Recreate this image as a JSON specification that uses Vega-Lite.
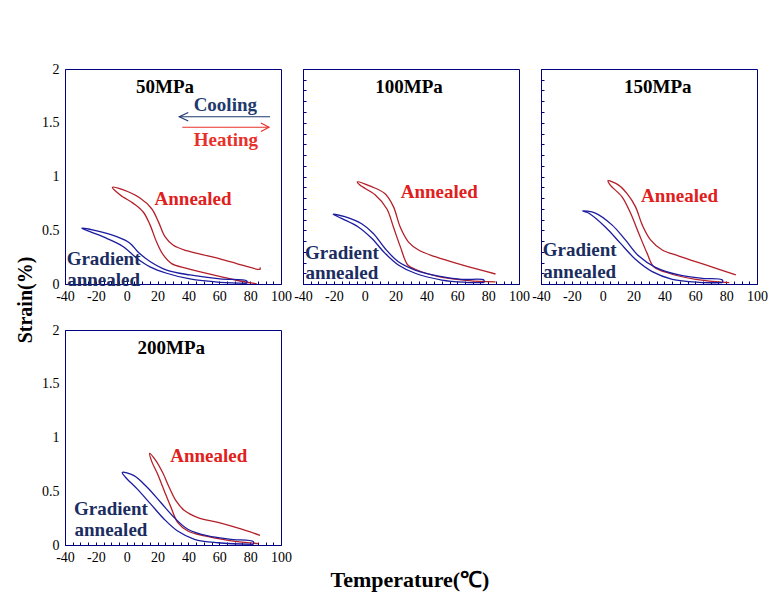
{
  "$schema": "https://vega.github.io/schema/vega-lite/v6.json",
  "padding": {"left": 15, "top": 61, "right": 5, "bottom": 5},
  "background": "white",
  "title": {"text": "Temperature(℃)", "orient": "bottom", "anchor": "middle", "font": "Liberation Serif", "fontSize": 22, "fontWeight": "bold", "color": "#000000", "offset": 5, "dx": 18},
  "datasets": {
    "curves": [
      {"p":"50MPa","c":"A","i":0,"x":84.2,"y":0.003},{"p":"50MPa","c":"A","i":1,"x":73.4,"y":0.028},{"p":"50MPa","c":"A","i":2,"x":56.1,"y":0.084},{"p":"50MPa","c":"A","i":3,"x":38.9,"y":0.146},{"p":"50MPa","c":"A","i":4,"x":29.1,"y":0.19},{"p":"50MPa","c":"A","i":5,"x":23.7,"y":0.27},{"p":"50MPa","c":"A","i":6,"x":19.4,"y":0.39},{"p":"50MPa","c":"A","i":7,"x":15.1,"y":0.55},{"p":"50MPa","c":"A","i":8,"x":10.7,"y":0.67},{"p":"50MPa","c":"A","i":9,"x":4.3,"y":0.75},{"p":"50MPa","c":"A","i":10,"x":-4.4,"y":0.83},{"p":"50MPa","c":"A","i":11,"x":-9.3,"y":0.90},
      {"p":"50MPa","c":"A","i":12,"x":-2.2,"y":0.875},{"p":"50MPa","c":"A","i":13,"x":8.6,"y":0.80},{"p":"50MPa","c":"A","i":14,"x":16.2,"y":0.70},{"p":"50MPa","c":"A","i":15,"x":20.5,"y":0.58},{"p":"50MPa","c":"A","i":16,"x":24.8,"y":0.44},{"p":"50MPa","c":"A","i":17,"x":30.2,"y":0.36},{"p":"50MPa","c":"A","i":18,"x":38.9,"y":0.31},{"p":"50MPa","c":"A","i":19,"x":56.1,"y":0.25},{"p":"50MPa","c":"A","i":20,"x":71.3,"y":0.19},{"p":"50MPa","c":"A","i":21,"x":86.4,"y":0.137},{"p":"50MPa","c":"A","i":22,"x":86.4,"y":0.155},
      {"p":"50MPa","c":"G","i":0,"x":77.8,"y":0.006},{"p":"50MPa","c":"G","i":1,"x":60.5,"y":0.016},{"p":"50MPa","c":"G","i":2,"x":41,"y":0.047},{"p":"50MPa","c":"G","i":3,"x":25.9,"y":0.10},{"p":"50MPa","c":"G","i":4,"x":15.1,"y":0.16},{"p":"50MPa","c":"G","i":5,"x":6.5,"y":0.24},{"p":"50MPa","c":"G","i":6,"x":-2.2,"y":0.347},{"p":"50MPa","c":"G","i":7,"x":-13,"y":0.425},{"p":"50MPa","c":"G","i":8,"x":-23.8,"y":0.487},{"p":"50MPa","c":"G","i":9,"x":-29.2,"y":0.52},
      {"p":"50MPa","c":"G","i":10,"x":-17.3,"y":0.487},{"p":"50MPa","c":"G","i":11,"x":-6.5,"y":0.44},{"p":"50MPa","c":"G","i":12,"x":2.1,"y":0.38},{"p":"50MPa","c":"G","i":13,"x":7.5,"y":0.295},{"p":"50MPa","c":"G","i":14,"x":15.1,"y":0.21},{"p":"50MPa","c":"G","i":15,"x":25.9,"y":0.13},{"p":"50MPa","c":"G","i":16,"x":41,"y":0.084},{"p":"50MPa","c":"G","i":17,"x":60.5,"y":0.047},{"p":"50MPa","c":"G","i":18,"x":77.8,"y":0.028},{"p":"50MPa","c":"G","i":19,"x":77.8,"y":0.006},

      {"p":"100MPa","c":"A","i":0,"x":84.8,"y":0.019},{"p":"100MPa","c":"A","i":1,"x":67.4,"y":0.031},{"p":"100MPa","c":"A","i":2,"x":47.9,"y":0.068},{"p":"100MPa","c":"A","i":3,"x":32.7,"y":0.137},{"p":"100MPa","c":"A","i":4,"x":27.9,"y":0.177},{"p":"100MPa","c":"A","i":5,"x":23,"y":0.35},{"p":"100MPa","c":"A","i":6,"x":18.6,"y":0.53},{"p":"100MPa","c":"A","i":7,"x":14.3,"y":0.70},{"p":"100MPa","c":"A","i":8,"x":6.7,"y":0.83},{"p":"100MPa","c":"A","i":9,"x":-3.1,"y":0.92},{"p":"100MPa","c":"A","i":10,"x":-4.8,"y":0.95},
      {"p":"100MPa","c":"A","i":11,"x":4.5,"y":0.905},{"p":"100MPa","c":"A","i":12,"x":13.2,"y":0.84},{"p":"100MPa","c":"A","i":13,"x":18.6,"y":0.72},{"p":"100MPa","c":"A","i":14,"x":23,"y":0.53},{"p":"100MPa","c":"A","i":15,"x":28.4,"y":0.39},{"p":"100MPa","c":"A","i":16,"x":34.9,"y":0.316},{"p":"100MPa","c":"A","i":17,"x":45.7,"y":0.254},{"p":"100MPa","c":"A","i":18,"x":63,"y":0.177},{"p":"100MPa","c":"A","i":19,"x":84.8,"y":0.093},
      {"p":"100MPa","c":"G","i":0,"x":77.2,"y":0.012},{"p":"100MPa","c":"G","i":1,"x":65.3,"y":0.016},{"p":"100MPa","c":"G","i":2,"x":50,"y":0.037},{"p":"100MPa","c":"G","i":3,"x":32.7,"y":0.10},{"p":"100MPa","c":"G","i":4,"x":21.8,"y":0.177},{"p":"100MPa","c":"G","i":5,"x":13.2,"y":0.285},{"p":"100MPa","c":"G","i":6,"x":4.5,"y":0.425},{"p":"100MPa","c":"G","i":7,"x":-4.2,"y":0.53},{"p":"100MPa","c":"G","i":8,"x":-15,"y":0.61},{"p":"100MPa","c":"G","i":9,"x":-20.5,"y":0.65},
      {"p":"100MPa","c":"G","i":10,"x":-12.9,"y":0.626},{"p":"100MPa","c":"G","i":11,"x":-2,"y":0.56},{"p":"100MPa","c":"G","i":12,"x":5.6,"y":0.47},{"p":"100MPa","c":"G","i":13,"x":13.2,"y":0.33},{"p":"100MPa","c":"G","i":14,"x":21.8,"y":0.207},{"p":"100MPa","c":"G","i":15,"x":32.7,"y":0.13},{"p":"100MPa","c":"G","i":16,"x":47.9,"y":0.074},{"p":"100MPa","c":"G","i":17,"x":63,"y":0.043},{"p":"100MPa","c":"G","i":18,"x":77.2,"y":0.037},{"p":"100MPa","c":"G","i":19,"x":77.2,"y":0.012},

      {"p":"150MPa","c":"A","i":0,"x":82,"y":0.012},{"p":"150MPa","c":"A","i":1,"x":60.3,"y":0.043},{"p":"150MPa","c":"A","i":2,"x":42.9,"y":0.10},{"p":"150MPa","c":"A","i":3,"x":33.1,"y":0.16},{"p":"150MPa","c":"A","i":4,"x":28.8,"y":0.285},{"p":"150MPa","c":"A","i":5,"x":23.4,"y":0.47},{"p":"150MPa","c":"A","i":6,"x":18,"y":0.66},{"p":"150MPa","c":"A","i":7,"x":12.5,"y":0.81},{"p":"150MPa","c":"A","i":8,"x":4.9,"y":0.92},{"p":"150MPa","c":"A","i":9,"x":3.4,"y":0.96},
      {"p":"150MPa","c":"A","i":10,"x":10.3,"y":0.92},{"p":"150MPa","c":"A","i":11,"x":15.8,"y":0.84},{"p":"150MPa","c":"A","i":12,"x":21.2,"y":0.72},{"p":"150MPa","c":"A","i":13,"x":25.6,"y":0.55},{"p":"150MPa","c":"A","i":14,"x":31,"y":0.41},{"p":"150MPa","c":"A","i":15,"x":38.6,"y":0.316},{"p":"150MPa","c":"A","i":16,"x":49.4,"y":0.26},{"p":"150MPa","c":"A","i":17,"x":66.8,"y":0.177},{"p":"150MPa","c":"A","i":18,"x":86.3,"y":0.084},
      {"p":"150MPa","c":"G","i":0,"x":77.6,"y":0.012},{"p":"150MPa","c":"G","i":1,"x":62.4,"y":0.016},{"p":"150MPa","c":"G","i":2,"x":45.1,"y":0.044},{"p":"150MPa","c":"G","i":3,"x":32.1,"y":0.115},{"p":"150MPa","c":"G","i":4,"x":21.2,"y":0.23},{"p":"150MPa","c":"G","i":5,"x":11.4,"y":0.38},{"p":"150MPa","c":"G","i":6,"x":1.7,"y":0.53},{"p":"150MPa","c":"G","i":7,"x":-9.2,"y":0.66},{"p":"150MPa","c":"G","i":8,"x":-13.1,"y":0.68},
      {"p":"150MPa","c":"G","i":9,"x":-4.8,"y":0.66},{"p":"150MPa","c":"G","i":10,"x":6,"y":0.55},{"p":"150MPa","c":"G","i":11,"x":14.7,"y":0.41},{"p":"150MPa","c":"G","i":12,"x":23.4,"y":0.26},{"p":"150MPa","c":"G","i":13,"x":34.2,"y":0.155},{"p":"150MPa","c":"G","i":14,"x":49.4,"y":0.084},{"p":"150MPa","c":"G","i":15,"x":64.6,"y":0.053},{"p":"150MPa","c":"G","i":16,"x":77.6,"y":0.037},{"p":"150MPa","c":"G","i":17,"x":77.6,"y":0.012},

      {"p":"200MPa","c":"A","i":0,"x":85.4,"y":0.012},{"p":"200MPa","c":"A","i":1,"x":65.8,"y":0.044},{"p":"200MPa","c":"A","i":2,"x":50.5,"y":0.084},{"p":"200MPa","c":"A","i":3,"x":39.6,"y":0.13},{"p":"200MPa","c":"A","i":4,"x":33,"y":0.21},{"p":"200MPa","c":"A","i":5,"x":28.7,"y":0.35},{"p":"200MPa","c":"A","i":6,"x":24.3,"y":0.505},{"p":"200MPa","c":"A","i":7,"x":20,"y":0.66},{"p":"200MPa","c":"A","i":8,"x":16,"y":0.785},{"p":"200MPa","c":"A","i":9,"x":14.9,"y":0.853},
      {"p":"200MPa","c":"A","i":10,"x":18.9,"y":0.785},{"p":"200MPa","c":"A","i":11,"x":23.2,"y":0.676},{"p":"200MPa","c":"A","i":12,"x":27.6,"y":0.535},{"p":"200MPa","c":"A","i":13,"x":32,"y":0.41},{"p":"200MPa","c":"A","i":14,"x":37.4,"y":0.32},{"p":"200MPa","c":"A","i":15,"x":46.1,"y":0.255},{"p":"200MPa","c":"A","i":16,"x":59.2,"y":0.21},{"p":"200MPa","c":"A","i":17,"x":74.5,"y":0.147},{"p":"200MPa","c":"A","i":18,"x":86.4,"y":0.09},
      {"p":"200MPa","c":"G","i":0,"x":82.1,"y":0.006},{"p":"200MPa","c":"G","i":1,"x":59.2,"y":0.021},{"p":"200MPa","c":"G","i":2,"x":43.9,"y":0.053},{"p":"200MPa","c":"G","i":3,"x":33,"y":0.13},{"p":"200MPa","c":"G","i":4,"x":24.3,"y":0.24},{"p":"200MPa","c":"G","i":5,"x":15.6,"y":0.38},{"p":"200MPa","c":"G","i":6,"x":6.9,"y":0.52},{"p":"200MPa","c":"G","i":7,"x":-0.8,"y":0.63},{"p":"200MPa","c":"G","i":8,"x":-2.9,"y":0.676},
      {"p":"200MPa","c":"G","i":9,"x":4.7,"y":0.645},{"p":"200MPa","c":"G","i":10,"x":13.4,"y":0.535},{"p":"200MPa","c":"G","i":11,"x":22.1,"y":0.395},{"p":"200MPa","c":"G","i":12,"x":30.8,"y":0.255},{"p":"200MPa","c":"G","i":13,"x":39.6,"y":0.147},{"p":"200MPa","c":"G","i":14,"x":52.7,"y":0.084},{"p":"200MPa","c":"G","i":15,"x":67.9,"y":0.053},{"p":"200MPa","c":"G","i":16,"x":82.1,"y":0.031},{"p":"200MPa","c":"G","i":17,"x":82.1,"y":0.006}
    ],
    "arrows": [
      {"c":"cool","g":"cs","i":0,"x":92.9,"y":1.556},{"c":"cool","g":"cs","i":1,"x":34.1,"y":1.556},
      {"c":"cool","g":"ch","i":0,"x":39.9,"y":1.596},{"c":"cool","g":"ch","i":1,"x":34.1,"y":1.556},{"c":"cool","g":"ch","i":2,"x":39.9,"y":1.516},
      {"c":"heat","g":"hs","i":0,"x":36,"y":1.458},{"c":"heat","g":"hs","i":1,"x":92.2,"y":1.458},
      {"c":"heat","g":"hh","i":0,"x":87,"y":1.498},{"c":"heat","g":"hh","i":1,"x":92.2,"y":1.458},{"c":"heat","g":"hh","i":2,"x":87,"y":1.418}
    ],
    "labels": [
      {"p":"50MPa","c":"T","t":"50MPa","x":24.8,"y":1.835},
      {"p":"50MPa","c":"At","t":"Annealed","x":43,"y":0.79},
      {"p":"50MPa","c":"Gt","t":"Gradient","x":-15,"y":0.233},
      {"p":"50MPa","c":"Gt","t":"annealed","x":-15,"y":0.037},
      {"p":"50MPa","c":"cool","t":"Cooling","x":63.9,"y":1.665},
      {"p":"50MPa","c":"heat","t":"Heating","x":64.3,"y":1.34},
      {"p":"100MPa","c":"T","t":"100MPa","x":28.7,"y":1.835},
      {"p":"100MPa","c":"At","t":"Annealed","x":48.3,"y":0.86},
      {"p":"100MPa","c":"Gt","t":"Gradient","x":-14.8,"y":0.29},
      {"p":"100MPa","c":"Gt","t":"annealed","x":-14.8,"y":0.105},
      {"p":"150MPa","c":"T","t":"150MPa","x":35.7,"y":1.835},
      {"p":"150MPa","c":"At","t":"Annealed","x":49.8,"y":0.82},
      {"p":"150MPa","c":"Gt","t":"Gradient","x":-14.9,"y":0.316},
      {"p":"150MPa","c":"Gt","t":"annealed","x":-14.9,"y":0.115},
      {"p":"200MPa","c":"T","t":"200MPa","x":28.9,"y":1.835},
      {"p":"200MPa","c":"At","t":"Annealed","x":53.2,"y":0.83},
      {"p":"200MPa","c":"Gt","t":"Gradient","x":-10.2,"y":0.333},
      {"p":"200MPa","c":"Gt","t":"annealed","x":-10.2,"y":0.137}
    ]
  },
  "vconcat": [
    {
      "title": {"text": "Strain(%)", "orient": "left", "anchor": "middle", "font": "Liberation Serif", "fontSize": 20, "fontWeight": "bold", "color": "#000000", "offset": 5, "dx": 13},
      "columns": 3,
      "spacing": {"row": 46, "column": 22},
      "bounds": "flush",
      "concat": [
        {
          "width": 216, "height": 215,
          "encoding": {
            "x": {"field": "x", "type": "quantitative", "scale": {"domain": [-40, 100], "nice": false, "zero": false}, "axis": {"values": [-40,-35,-30,-25,-20,-15,-10,-5,0,5,10,15,20,25,30,35,40,45,50,55,60,65,70,75,80,85,90,95,100], "labelExpr": "datum.value % 20 === 0 ? '' + datum.value : ''", "tickSize": -3, "labelPadding": 8, "labelFlush": false, "labelOverlap": false, "labelBound": false}},
            "y": {"field": "y", "type": "quantitative", "scale": {"domain": [0, 2], "nice": false, "zero": false}, "axis": {"values": [0, 0.5, 1, 1.5, 2], "labelExpr": "'' + datum.value", "ticks": false, "labelPadding": 6, "labelOverlap": false}}
          },
          "layer": [
            {"data": {"name": "curves"}, "transform": [{"filter": "datum.p === '50MPa'"}], "mark": {"type": "line", "strokeWidth": 1.3, "clip": true, "interpolate": "catmull-rom"},
             "encoding": {"color": {"field": "c", "type": "nominal", "scale": {"domain": ["A","G","At","Gt","T","cool","heat"], "range": ["#B3202A","#1C1CA0","#E0201C","#1B2D60","#000000","#1F3A6E","#E8302A"]}, "legend": null}, "order": {"field": "i", "type": "quantitative"}}},
            {"data": {"name": "arrows"}, "mark": {"type": "line", "strokeWidth": 1.2},
             "encoding": {"color": {"field": "c", "type": "nominal", "scale": {"domain": ["A","G","At","Gt","T","cool","heat"], "range": ["#B3202A","#1C1CA0","#E0201C","#1B2D60","#000000","#1F3A6E","#E8302A"]}, "legend": null}, "detail": {"field": "g", "type": "nominal"}, "order": {"field": "i", "type": "quantitative"}}},
            {"data": {"name": "labels"}, "transform": [{"filter": "datum.p === '50MPa'"}], "mark": {"type": "text", "font": "Liberation Serif", "fontWeight": "bold", "fontSize": 19},
             "encoding": {"text": {"field": "t", "type": "nominal"}, "color": {"field": "c", "type": "nominal", "scale": {"domain": ["A","G","At","Gt","T","cool","heat"], "range": ["#B3202A","#1C1CA0","#E0201C","#1B2D60","#000000","#1F3A6E","#E8302A"]}, "legend": null}}}
          ]
        },
        {
          "width": 216, "height": 215,
          "encoding": {
            "x": {"field": "x", "type": "quantitative", "scale": {"domain": [-40, 100], "nice": false, "zero": false}, "axis": {"values": [-40,-35,-30,-25,-20,-15,-10,-5,0,5,10,15,20,25,30,35,40,45,50,55,60,65,70,75,80,85,90,95,100], "labelExpr": "datum.value % 20 === 0 ? '' + datum.value : ''", "tickSize": -3, "labelPadding": 8, "labelFlush": false, "labelOverlap": false, "labelBound": false}},
            "y": {"field": "y", "type": "quantitative", "scale": {"domain": [0, 2], "nice": false, "zero": false}, "axis": {"values": [0,0.1,0.2,0.3,0.4,0.5,0.6,0.7,0.8,0.9,1,1.1,1.2,1.3,1.4,1.5,1.6,1.7,1.8,1.9,2], "labels": false, "tickSize": -3}}
          },
          "layer": [
            {"data": {"name": "curves"}, "transform": [{"filter": "datum.p === '100MPa'"}], "mark": {"type": "line", "strokeWidth": 1.3, "clip": true, "interpolate": "catmull-rom"},
             "encoding": {"color": {"field": "c", "type": "nominal", "scale": {"domain": ["A","G","At","Gt","T","cool","heat"], "range": ["#B3202A","#1C1CA0","#E0201C","#1B2D60","#000000","#1F3A6E","#E8302A"]}, "legend": null}, "order": {"field": "i", "type": "quantitative"}}},
            {"data": {"name": "labels"}, "transform": [{"filter": "datum.p === '100MPa'"}], "mark": {"type": "text", "font": "Liberation Serif", "fontWeight": "bold", "fontSize": 19},
             "encoding": {"text": {"field": "t", "type": "nominal"}, "color": {"field": "c", "type": "nominal", "scale": {"domain": ["A","G","At","Gt","T","cool","heat"], "range": ["#B3202A","#1C1CA0","#E0201C","#1B2D60","#000000","#1F3A6E","#E8302A"]}, "legend": null}}}
          ]
        },
        {
          "width": 216, "height": 215,
          "encoding": {
            "x": {"field": "x", "type": "quantitative", "scale": {"domain": [-40, 100], "nice": false, "zero": false}, "axis": {"values": [-40,-35,-30,-25,-20,-15,-10,-5,0,5,10,15,20,25,30,35,40,45,50,55,60,65,70,75,80,85,90,95,100], "labelExpr": "datum.value % 20 === 0 ? '' + datum.value : ''", "tickSize": -3, "labelPadding": 8, "labelFlush": false, "labelOverlap": false, "labelBound": false}},
            "y": {"field": "y", "type": "quantitative", "scale": {"domain": [0, 2], "nice": false, "zero": false}, "axis": {"values": [0,0.1,0.2,0.3,0.4,0.5,0.6,0.7,0.8,0.9,1,1.1,1.2,1.3,1.4,1.5,1.6,1.7,1.8,1.9,2], "labels": false, "tickSize": -3}}
          },
          "layer": [
            {"data": {"name": "curves"}, "transform": [{"filter": "datum.p === '150MPa'"}], "mark": {"type": "line", "strokeWidth": 1.3, "clip": true, "interpolate": "catmull-rom"},
             "encoding": {"color": {"field": "c", "type": "nominal", "scale": {"domain": ["A","G","At","Gt","T","cool","heat"], "range": ["#B3202A","#1C1CA0","#E0201C","#1B2D60","#000000","#1F3A6E","#E8302A"]}, "legend": null}, "order": {"field": "i", "type": "quantitative"}}},
            {"data": {"name": "labels"}, "transform": [{"filter": "datum.p === '150MPa'"}], "mark": {"type": "text", "font": "Liberation Serif", "fontWeight": "bold", "fontSize": 19},
             "encoding": {"text": {"field": "t", "type": "nominal"}, "color": {"field": "c", "type": "nominal", "scale": {"domain": ["A","G","At","Gt","T","cool","heat"], "range": ["#B3202A","#1C1CA0","#E0201C","#1B2D60","#000000","#1F3A6E","#E8302A"]}, "legend": null}}}
          ]
        },
        {
          "width": 216, "height": 215,
          "encoding": {
            "x": {"field": "x", "type": "quantitative", "scale": {"domain": [-40, 100], "nice": false, "zero": false}, "axis": {"values": [-40,-35,-30,-25,-20,-15,-10,-5,0,5,10,15,20,25,30,35,40,45,50,55,60,65,70,75,80,85,90,95,100], "labelExpr": "datum.value % 20 === 0 ? '' + datum.value : ''", "tickSize": -3, "labelPadding": 8, "labelFlush": false, "labelOverlap": false, "labelBound": false}},
            "y": {"field": "y", "type": "quantitative", "scale": {"domain": [0, 2], "nice": false, "zero": false}, "axis": {"values": [0, 0.5, 1, 1.5, 2], "labelExpr": "'' + datum.value", "ticks": false, "labelPadding": 6, "labelOverlap": false}}
          },
          "layer": [
            {"data": {"name": "curves"}, "transform": [{"filter": "datum.p === '200MPa'"}], "mark": {"type": "line", "strokeWidth": 1.3, "clip": true, "interpolate": "catmull-rom"},
             "encoding": {"color": {"field": "c", "type": "nominal", "scale": {"domain": ["A","G","At","Gt","T","cool","heat"], "range": ["#B3202A","#1C1CA0","#E0201C","#1B2D60","#000000","#1F3A6E","#E8302A"]}, "legend": null}, "order": {"field": "i", "type": "quantitative"}}},
            {"data": {"name": "labels"}, "transform": [{"filter": "datum.p === '200MPa'"}], "mark": {"type": "text", "font": "Liberation Serif", "fontWeight": "bold", "fontSize": 19},
             "encoding": {"text": {"field": "t", "type": "nominal"}, "color": {"field": "c", "type": "nominal", "scale": {"domain": ["A","G","At","Gt","T","cool","heat"], "range": ["#B3202A","#1C1CA0","#E0201C","#1B2D60","#000000","#1F3A6E","#E8302A"]}, "legend": null}}}
          ]
        }
      ]
    }
  ],
  "config": {
    "font": "Liberation Serif",
    "view": {"stroke": "#000080", "strokeWidth": 1},
    "axis": {"domainColor": "#000080", "tickColor": "#000080", "labelFont": "Liberation Serif", "labelFontSize": 14, "labelColor": "#000000", "grid": false, "title": null}
  }
}
